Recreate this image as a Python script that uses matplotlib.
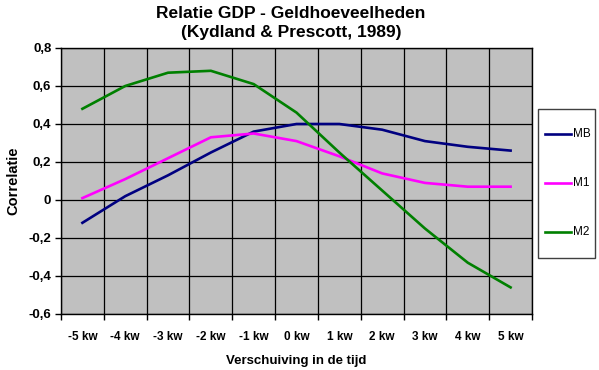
import matplotlib
matplotlib.use("Agg")
import matplotlib.pyplot as plt
from matplotlib.lines import Line2D
from matplotlib.patches import Rectangle
import numpy as np

categories = ["-5 kw", "-4 kw", "-3 kw", "-2 kw", "-1 kw", "0 kw",
              "1 kw", "2 kw", "3 kw", "4 kw", "5 kw"]
mb = [-0.12, 0.02, 0.13, 0.25, 0.36, 0.40, 0.40, 0.37, 0.31, 0.28, 0.26]
m1 = [0.01, 0.11, 0.22, 0.33, 0.35, 0.31, 0.23, 0.14, 0.09, 0.07, 0.07]
m2 = [0.48, 0.60, 0.67, 0.68, 0.61, 0.46, 0.25, 0.05, -0.15, -0.33, -0.46]
series_names = ["MB", "M1", "M2"]
series_colors = ["#000080", "#FF00FF", "#008000"]
yticks = [-0.6, -0.4, -0.2, 0.0, 0.2, 0.4, 0.6, 0.8]
ytick_labels = ["-0,6", "-0,4", "-0,2", "0", "0,2", "0,4", "0,6", "0,8"]

plt.rcParams['font.family'] = ['Liberation Sans', 'DejaVu Sans']

W, H = 599, 370
fig = plt.figure(figsize=(W/100, H/100), dpi=100)
ax = fig.add_axes([61/W, 1-314/H, (532-61)/W, (314-48)/H])
ax.set_facecolor("#C0C0C0")

x = np.arange(len(categories))
lines = []
for vals, name, col in zip([mb, m1, m2], series_names, series_colors):
    ln, = ax.plot(x, vals, color=col, lw=1.9, label=name, solid_joinstyle='round')
    lines.append(ln)

ax.set_xlim(-0.5, len(categories) - 0.5)
ax.set_ylim(-0.6, 0.8)

ax.set_xticks(np.arange(-0.5, len(categories), 1.0))
ax.set_xticklabels([])
ax.set_xticks(x, minor=True)
ax.set_xticklabels(categories, minor=True, fontsize=8.5, fontweight='bold')
ax.tick_params(axis='x', which='minor', length=0, pad=12)
ax.tick_params(axis='x', which='major', length=4, width=1, direction='out')

ax.set_yticks(yticks)
ax.set_yticklabels(ytick_labels, fontsize=9.5, fontweight='bold')
ax.tick_params(axis='y', length=4, width=1, direction='out', pad=3)

ax.grid(True, which='major', color='black', lw=0.9)
ax.set_axisbelow(True)
for s in ax.spines.values():
    s.set_color('black')
    s.set_linewidth(1)

ax.set_ylabel("Correlatie", fontsize=10.5, fontweight='bold', labelpad=6)
ax.set_xlabel("Verschuiving in de tijd", fontsize=9.5, fontweight='bold', labelpad=9)

fig.text(291/W, 1-13/H, "Relatie GDP - Geldhoeveelheden", ha='center', va='center',
         fontsize=12.5, fontweight='bold')
fig.text(291/W, 1-32/H, "(Kydland & Prescott, 1989)", ha='center', va='center',
         fontsize=12.5, fontweight='bold')

# legend drawn manually in figure pixels
fig.patches.append(Rectangle((538/W, 1-258/H), (595-538)/W, (258-109)/H,
                             transform=fig.transFigure, facecolor='white',
                             edgecolor='#404040', lw=1))
for name, col, yy in zip(series_names, series_colors, [134, 183, 232]):
    fig.lines.append(Line2D([545/W, 571/W], [1-yy/H, 1-yy/H], color=col, lw=1.9,
                            transform=fig.transFigure))
    fig.text(573/W, 1-yy/H, name, ha='left', va='center', fontsize=8.5)

fig.savefig("out.png", dpi=100)
